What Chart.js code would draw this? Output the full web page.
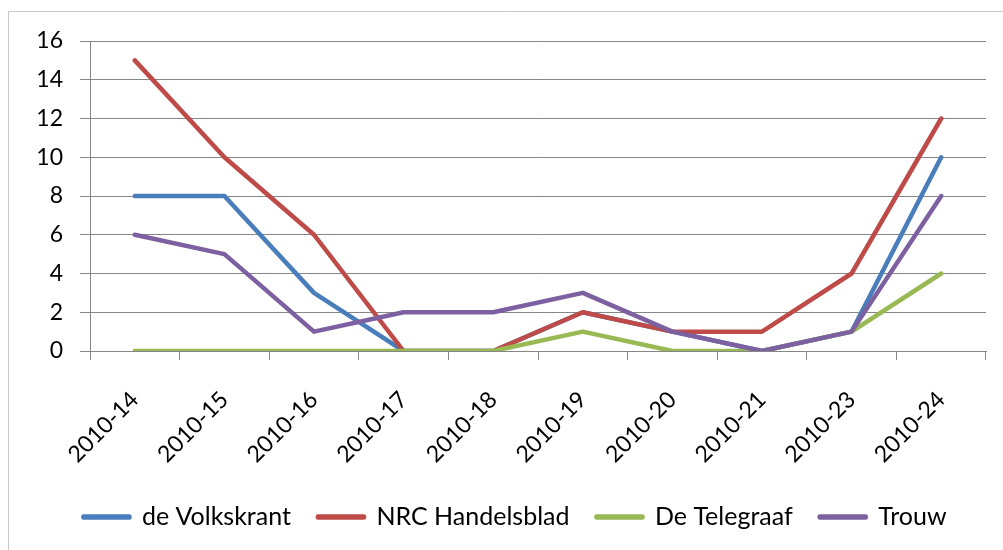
<!DOCTYPE html>
<html>
<head>
<meta charset="utf-8">
<script src="https://cdn.jsdelivr.net/npm/chart.js@4/dist/chart.umd.min.js"></script>
<style>
  html, body { margin: 0; padding: 0; background: #fff; }
  #wrap { position: relative; width: 1003px; height: 550px; }
</style>
</head>
<body>
<div id="wrap"><canvas id="chart-1" width="1003" height="550"></canvas></div>
<script>
const weeks = ['2010-14', '2010-15', '2010-16', '2010-17', '2010-18', '2010-19', '2010-20', '2010-21', '2010-23', '2010-24'];
const volkskrant = [8, 8, 3, 0, 0, 2, 1, 0, 1, 10];
const nrc = [15, 10, 6, 0, 0, 2, 1, 1, 4, 12];
const telegraaf = [0, 0, 0, 0, 0, 1, 0, 0, 1, 4];
const trouw = [6, 5, 1, 2, 2, 3, 1, 0, 1, 8];

const tickFont = { family: 'Lato', size: 23 };
const legendFont = { family: 'Lato', size: 25 };

// light frame along the top and left edge, like the pasted Excel chart
const frame = {
  id: 'frame',
  beforeDraw(chart) {
    const c = chart.ctx;
    c.save();
    c.strokeStyle = '#c8c8c8';
    c.lineWidth = 1;
    c.beginPath();
    c.moveTo(8.5, 1003);
    c.lineTo(8.5, 11.5);
    c.lineTo(1003, 11.5);
    c.stroke();
    c.restore();
  }
};

// Excel centres the legend a bit right of the canvas middle
const legendShift = {
  id: 'legendShift',
  afterLayout(chart) {
    chart.legend.left += 44;
    chart.legend.width -= 44;
  }
};

function line(label, data, color, order) {
  return {
    label: label,
    data: data,
    borderColor: color,
    backgroundColor: color,
    borderWidth: 4.5,
    pointRadius: 0,
    borderJoinStyle: 'round',
    borderCapStyle: 'round',
    tension: 0,
    order: order
  };
}

new Chart(document.getElementById('chart-1'), {
  type: 'line',
  data: {
    labels: weeks,
    datasets: [
      line('de Volkskrant', volkskrant, '#4A7EBB', 3),
      line('NRC Handelsblad', nrc, '#BE4B48', 2),
      line('De Telegraaf', telegraaf, '#98B954', 1),
      line('Trouw', trouw, '#7D60A0', 0)
    ]
  },
  options: {
    responsive: false,
    animation: false,
    layout: { padding: { left: 0, right: 17, top: 41, bottom: 10.5 } },
    plugins: {
      tooltip: { enabled: false },
      legend: {
        position: 'bottom',
        labels: {
          font: legendFont,
          color: '#000',
          boxWidth: 46,
          boxHeight: 1,
          padding: 27,
          sort: (a, b) => a.datasetIndex - b.datasetIndex
        }
      }
    },
    scales: {
      x: {
        offset: true,
        grid: { offset: true, drawOnChartArea: false, tickLength: 9, color: '#868686' },
        border: { color: '#868686' },
        ticks: { font: tickFont, color: '#000', minRotation: 45, maxRotation: 45, padding: 26 },
        afterFit(s) { s.height = 126.5; }
      },
      y: {
        min: 0,
        max: 16,
        grid: { color: '#868686', tickLength: 10 },
        border: { color: '#868686' },
        ticks: { font: tickFont, color: '#000', stepSize: 2, padding: 17 },
        afterFit(s) { s.width = 90; }
      }
    }
  },
  plugins: [frame, legendShift]
});
</script>
</body>
</html>
